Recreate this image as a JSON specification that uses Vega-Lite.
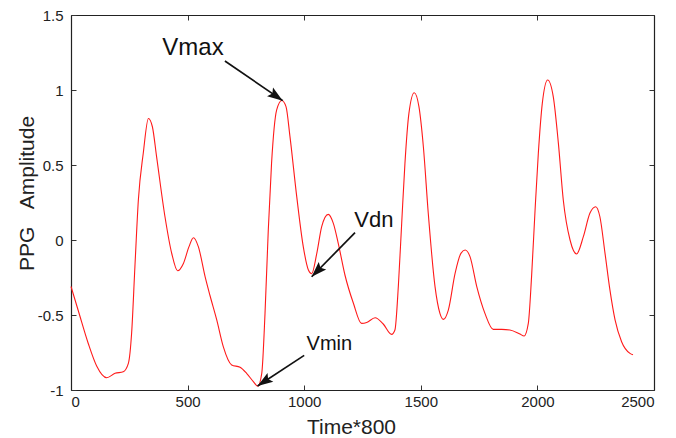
{
  "$schema": "https://vega.github.io/schema/vega-lite/v6.json",
  "width": 583,
  "height": 375,
  "autosize": {"type": "none"},
  "padding": {"left": 71, "top": 15, "right": 22, "bottom": 48},
  "background": "white",
  "config": {
    "view": {"stroke": null},
    "font": "Liberation Sans",
    "axis": {
      "grid": false,
      "domainColor": "#222",
      "domainWidth": 1.2,
      "tickColor": "#333",
      "tickSize": -5,
      "tickWidth": 1,
      "labelFont": "Liberation Sans",
      "labelFontSize": 15,
      "labelColor": "#222",
      "titleFont": "Liberation Sans",
      "titleFontSize": 21,
      "titleFontWeight": "normal",
      "titleColor": "#222"
    }
  },
  "datasets": {
    "ppg": [
      {"t": 0, "v": -0.31}, {"t": 31, "v": -0.47}, {"t": 74, "v": -0.69}, {"t": 110, "v": -0.84},
      {"t": 153, "v": -0.918}, {"t": 189, "v": -0.889}, {"t": 224, "v": -0.878}, {"t": 246, "v": -0.822},
      {"t": 260, "v": -0.62}, {"t": 274, "v": -0.18}, {"t": 289, "v": 0.27}, {"t": 310, "v": 0.58},
      {"t": 332, "v": 0.81}, {"t": 349, "v": 0.755}, {"t": 367, "v": 0.556}, {"t": 403, "v": 0.155},
      {"t": 432, "v": -0.09}, {"t": 457, "v": -0.205}, {"t": 482, "v": -0.156}, {"t": 506, "v": -0.044},
      {"t": 525, "v": 0.015}, {"t": 546, "v": -0.044}, {"t": 575, "v": -0.244}, {"t": 596, "v": -0.37},
      {"t": 625, "v": -0.533}, {"t": 653, "v": -0.711}, {"t": 689, "v": -0.833}, {"t": 725, "v": -0.849},
      {"t": 753, "v": -0.889}, {"t": 782, "v": -0.944}, {"t": 801, "v": -0.975}, {"t": 818, "v": -0.889},
      {"t": 832, "v": -0.489}, {"t": 846, "v": 0.067}, {"t": 860, "v": 0.511}, {"t": 882, "v": 0.867},
      {"t": 904, "v": 0.93}, {"t": 922, "v": 0.889}, {"t": 939, "v": 0.689}, {"t": 968, "v": 0.289},
      {"t": 996, "v": -0.044}, {"t": 1018, "v": -0.2}, {"t": 1032, "v": -0.225}, {"t": 1054, "v": -0.089},
      {"t": 1075, "v": 0.089}, {"t": 1103, "v": 0.171}, {"t": 1125, "v": 0.111}, {"t": 1146, "v": -0.022},
      {"t": 1175, "v": -0.235}, {"t": 1211, "v": -0.422}, {"t": 1246, "v": -0.556}, {"t": 1268, "v": -0.55},
      {"t": 1304, "v": -0.518}, {"t": 1339, "v": -0.56}, {"t": 1375, "v": -0.629}, {"t": 1389, "v": -0.6},
      {"t": 1404, "v": -0.3}, {"t": 1418, "v": 0.11}, {"t": 1432, "v": 0.511}, {"t": 1449, "v": 0.844},
      {"t": 1472, "v": 0.982}, {"t": 1492, "v": 0.889}, {"t": 1511, "v": 0.622}, {"t": 1532, "v": 0.178},
      {"t": 1561, "v": -0.311}, {"t": 1582, "v": -0.489}, {"t": 1597, "v": -0.529}, {"t": 1618, "v": -0.467},
      {"t": 1647, "v": -0.222}, {"t": 1672, "v": -0.089}, {"t": 1690, "v": -0.067}, {"t": 1711, "v": -0.111},
      {"t": 1740, "v": -0.311}, {"t": 1775, "v": -0.489}, {"t": 1811, "v": -0.596}, {"t": 1847, "v": -0.596},
      {"t": 1882, "v": -0.6}, {"t": 1925, "v": -0.627}, {"t": 1943, "v": -0.64}, {"t": 1961, "v": -0.556},
      {"t": 1975, "v": -0.244}, {"t": 1990, "v": 0.2}, {"t": 2004, "v": 0.578}, {"t": 2021, "v": 0.911},
      {"t": 2044, "v": 1.067}, {"t": 2068, "v": 0.956}, {"t": 2090, "v": 0.644}, {"t": 2111, "v": 0.267},
      {"t": 2140, "v": 0.0}, {"t": 2168, "v": -0.093}, {"t": 2197, "v": 0.022}, {"t": 2225, "v": 0.178},
      {"t": 2250, "v": 0.222}, {"t": 2268, "v": 0.155}, {"t": 2290, "v": -0.089}, {"t": 2311, "v": -0.333},
      {"t": 2333, "v": -0.533}, {"t": 2361, "v": -0.678}, {"t": 2397, "v": -0.756}, {"t": 2410, "v": -0.765}
    ],
    "notes": [
      {"label": "Vmax", "tx": 523, "ty": 1.233, "x1": 660, "y1": 1.193, "x2": 908, "y2": 0.929},
      {"label": "Vdn", "tx": 1299, "ty": 0.087, "x1": 1218, "y1": 0.049, "x2": 1032, "y2": -0.245},
      {"label": "Vmin", "tx": 1108, "ty": -0.733, "x1": 1000, "y1": -0.769, "x2": 800, "y2": -0.973}
    ]
  },
  "resolve": {"axis": {"x": "independent", "y": "independent"}},
  "layer": [
    {
      "data": {"name": "ppg"},
      "mark": {"type": "line", "color": "#ff1a1a", "strokeWidth": 1.1, "interpolate": "monotone"},
      "encoding": {
        "x": {"field": "t", "type": "quantitative",
              "scale": {"domain": [0, 2500], "nice": false, "zero": false},
              "axis": {"orient": "bottom", "values": [0, 500, 1000, 1500, 2000, 2500], "title": "Time*800",
                       "labelExpr": "'' + datum.value", "labelPadding": 9,
                       "titleX": 280, "titleY": 43, "titleBaseline": "alphabetic", "titleAnchor": null, "titleAlign": "center"}},
        "y": {"field": "v", "type": "quantitative",
              "scale": {"domain": [-1, 1.5], "nice": false, "zero": false},
              "axis": {"orient": "left", "values": [-1, -0.5, 0, 0.5, 1, 1.5], "title": "PPG\u00a0\u00a0\u00a0Amplitude",
                       "labelExpr": "'' + datum.value", "labelPadding": 13,
                       "titleX": -38, "titleY": 178, "titleBaseline": "alphabetic", "titleAngle": -90, "titleAlign": "center"}}
      }
    },
    {
      "data": {"name": "ppg"},
      "mark": {"type": "line", "opacity": 0},
      "encoding": {
        "x": {"field": "t", "type": "quantitative",
              "axis": {"orient": "top", "values": [0, 500, 1000, 1500, 2000, 2500], "labels": false, "title": null}},
        "y": {"field": "v", "type": "quantitative",
              "axis": {"orient": "right", "values": [-1, -0.5, 0, 0.5, 1, 1.5], "labels": false, "title": null}}
      }
    },
    {
      "data": {"name": "notes"},
      "mark": {"type": "rule", "color": "#111", "strokeWidth": 1.7},
      "encoding": {
        "x": {"field": "x1", "type": "quantitative", "axis": null},
        "y": {"field": "y1", "type": "quantitative", "axis": null},
        "x2": {"field": "x2"},
        "y2": {"field": "y2"}
      }
    },
    {
      "data": {"name": "notes"},
      "transform": [{"filter": "datum.label === 'Vmax'"}],
      "mark": {"type": "point", "shape": "M0,0L-0.75,2.2L0,1.8L0.75,2.2Z", "filled": true, "color": "#111", "opacity": 1, "size": 196, "angle": 124.5},
      "encoding": {
        "x": {"field": "x2", "type": "quantitative", "axis": null},
        "y": {"field": "y2", "type": "quantitative", "axis": null}
      }
    },
    {
      "data": {"name": "notes"},
      "transform": [{"filter": "datum.label === 'Vdn'"}],
      "mark": {"type": "point", "shape": "M0,0L-0.75,2.2L0,1.8L0.75,2.2Z", "filled": true, "color": "#111", "opacity": 1, "size": 196, "angle": 224.5},
      "encoding": {
        "x": {"field": "x2", "type": "quantitative", "axis": null},
        "y": {"field": "y2", "type": "quantitative", "axis": null}
      }
    },
    {
      "data": {"name": "notes"},
      "transform": [{"filter": "datum.label === 'Vmin'"}],
      "mark": {"type": "point", "shape": "M0,0L-0.75,2.2L0,1.8L0.75,2.2Z", "filled": true, "color": "#111", "opacity": 1, "size": 196, "angle": 236.6},
      "encoding": {
        "x": {"field": "x2", "type": "quantitative", "axis": null},
        "y": {"field": "y2", "type": "quantitative", "axis": null}
      }
    },
    {
      "data": {"name": "notes"},
      "mark": {"type": "text", "color": "#111", "baseline": "alphabetic", "align": "center", "font": "Liberation Sans"},
      "encoding": {
        "x": {"field": "tx", "type": "quantitative", "axis": null},
        "y": {"field": "ty", "type": "quantitative", "axis": null},
        "text": {"field": "label"},
        "size": {"field": "label", "type": "nominal", "legend": null,
                 "scale": {"domain": ["Vmax", "Vdn", "Vmin"], "range": [24, 20, 20]}}
      }
    }
  ]
}
